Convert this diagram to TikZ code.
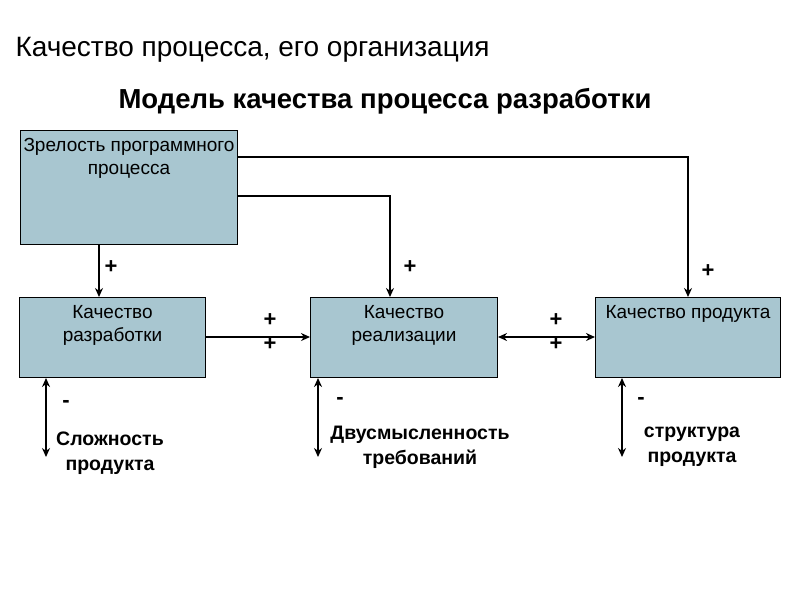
\documentclass[tikz,border=0pt]{standalone}
\usepackage{fontspec}
\setmainfont{Liberation Sans}
\usetikzlibrary{positioning,arrows.meta}
\tikzset{
  blok/.style={draw, fill={rgb,255:red,168;green,198;blue,208}, line width=1pt, anchor=north west, inner sep=0pt},
  blokt/.style={anchor=north, align=center, font=\fontsize{19}{23}\selectfont},
  svyaz/.style={line width=2pt, -{Stealth[length=9pt,width=8pt]}},
  dvoj/.style={line width=2pt, {Stealth[length=9pt,width=8pt]}-{Stealth[length=9pt,width=8pt]}},
  znak/.style={font=\bfseries\fontsize{22}{22}\selectfont},
  podpis/.style={font=\bfseries\fontsize{19.5}{25}\selectfont, align=center}
}
\begin{document}
\begin{tikzpicture}[x=1pt,y=-1pt]
\useasboundingbox (0,0) rectangle (794,595);

% Titles
\node[anchor=west, font=\fontsize{28}{32}\selectfont] (zag) at (12,50) {Качество процесса, его организация};
\node[font=\bfseries\fontsize{27.5}{32}\selectfont] (podzag) at (385,101) {Модель качества процесса разработки};

% Boxes
\node[blok, minimum width=217, minimum height=114] (zrel) at (20,130) {};
\node[blokt] at ([yshift=-5pt]zrel.north) {Зрелость программного\\процесса};
\node[blok, minimum width=186, minimum height=80] (razr) at (19,297) {};
\node[blokt] at ([yshift=-5pt]razr.north) {Качество\\разработки};
\node[blok, minimum width=187, minimum height=80] (real) at (310,297) {};
\node[blokt] at ([yshift=-5pt]real.north) {Качество\\реализации};
\node[blok, minimum width=185, minimum height=80] (prod) at (595,297) {};
\node[blokt] at ([yshift=-5pt]prod.north) {Качество продукта};

% Bottom labels
\node[podpis, anchor=north] (slozh) at (110,428) {Сложность\\продукта};
\node[podpis, anchor=north] (dvus) at (420,423) {Двусмысленность\\требований};
\node[podpis, anchor=north] (strukt) at (692,423) {структура\\продукта};
\coordinate (n1) at (46,457);
\coordinate (n2) at (318,457);
\coordinate (n3) at (622,457);

% Connectors
\draw[svyaz] (zrel.south -| 99,0) -- (razr.north -| 99,0);
\draw[svyaz] (zrel.east |- 0,196) -| (real.north -| 390,0);
\draw[svyaz] (zrel.east |- 0,157) -| (prod.north -| 688,0);
\draw[svyaz] (razr.east |- 0,337) -- (real.west |- 0,337);
\draw[dvoj] (real.east |- 0,337) -- (prod.west |- 0,337);
\draw[dvoj] (razr.south -| n1) -- (n1);
\draw[dvoj] (real.south -| n2) -- (n2);
\draw[dvoj] (prod.south -| n3) -- (n3);

% Signs
\node[znak] at (111,267) {+};
\node[znak] at (410,267) {+};
\node[znak] at (708,271) {+};
\node[znak] at (270,320) {+};
\node[znak] at (270,344) {+};
\node[znak] at (556,320) {+};
\node[znak] at (556,344) {+};
\node[znak] at (66,404) {-};
\node[znak] at (340,401) {-};
\node[znak] at (641,401) {-};
\end{tikzpicture}
\end{document}
